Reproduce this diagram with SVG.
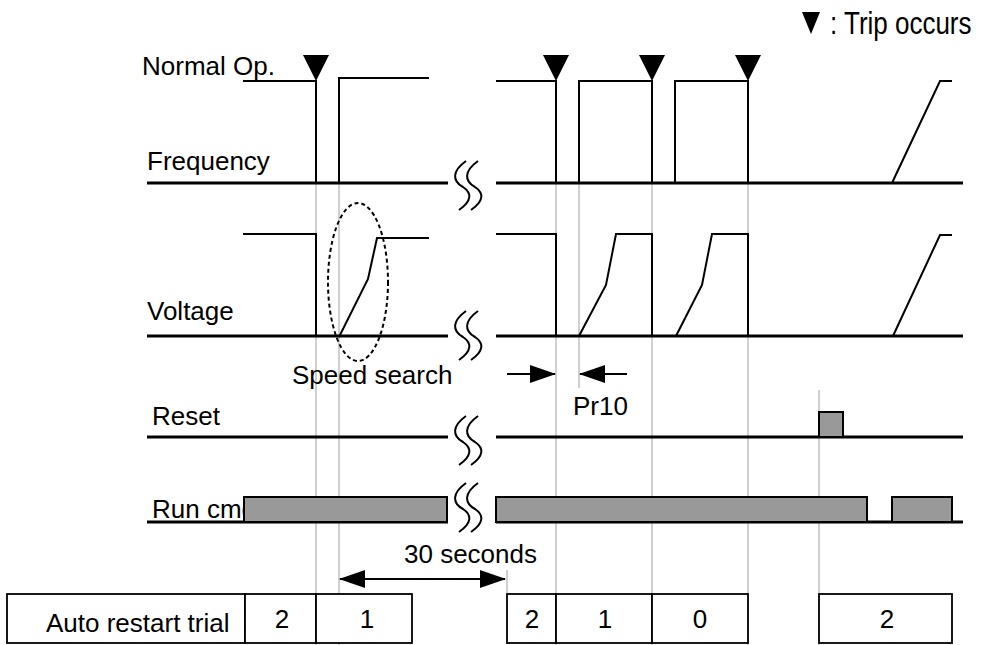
<svg xmlns="http://www.w3.org/2000/svg" width="982" height="645" viewBox="0 0 982 645">
<style>
text{font-family:"Liberation Sans",Arial,sans-serif;font-size:26px;fill:#000}
.base{stroke:#000;stroke-width:3.2;fill:none}
.sig{stroke:#000;stroke-width:2;fill:none;stroke-linejoin:miter}
.guide{stroke:#c4c4c4;stroke-width:1.6;fill:none}
.trip{fill:#000}
.bar{fill:#999;stroke:#000;stroke-width:2}
.cell{fill:#fff;stroke:#000;stroke-width:1.8}
.brk{stroke:#000;stroke-width:2;fill:none}
.dim{stroke:#000;stroke-width:2;fill:none}
.num{text-anchor:middle}
</style>
<defs>
<marker id="ah" markerUnits="userSpaceOnUse" markerWidth="26" markerHeight="18" viewBox="0 0 26 18" refX="25" refY="9" orient="auto-start-reverse">
<path d="M0,0 L26,9 L0,18 Z" fill="#000"/>
</marker>
<g id="brk">
<path class="brk" d="M3,-24 C-11,-14 -11,-4 0,2 C9,8 9,16 -4,25"/>
<path class="brk" d="M15,-24 C1,-14 1,-4 12,2 C21,8 21,16 8,25"/>
</g>
</defs>

<g id="connectors">
<line class="guide" x1="316" y1="183" x2="316" y2="645"/>
<line class="guide" x1="339" y1="183" x2="339" y2="645"/>
<line class="guide" x1="556" y1="183" x2="556" y2="645"/>
<line class="guide" x1="579" y1="183" x2="579" y2="388"/>
<line class="guide" x1="652" y1="183" x2="652" y2="645"/>
<line class="guide" x1="748" y1="183" x2="748" y2="645"/>
<line class="guide" x1="819" y1="390" x2="819" y2="645"/>
<line class="guide" x1="507" y1="570" x2="507" y2="594"/>
<line class="dim" x1="507" y1="374" x2="555" y2="374" marker-end="url(#ah)"/>
<line class="dim" x1="627" y1="374" x2="580" y2="374" marker-end="url(#ah)"/>
<line class="dim" x1="340" y1="579" x2="505" y2="579" marker-start="url(#ah)" marker-end="url(#ah)"/>
</g>

<g id="legend">
<polygon class="trip" points="802,12 820,12 811,34"/>
<text transform="translate(830,34) scale(1,1.2)">: Trip occurs</text>
</g>

<g id="frequency">
<text x="142" y="75">Normal Op.</text>
<text x="147" y="170">Frequency</text>
<line class="base" x1="147" y1="183" x2="448" y2="183"/>
<line class="base" x1="496" y1="183" x2="963" y2="183"/>
<polyline class="sig" points="243,81 316,81 316,183"/>
<polyline class="sig" points="339,183 339,78 429,78"/>
<polyline class="sig" points="496,81 556,81 556,183"/>
<polyline class="sig" points="579,183 579,81 652,81 652,183"/>
<polyline class="sig" points="675,183 675,81 748,81 748,183"/>
<polyline class="sig" points="892,183 940,81 952,81"/>
<polygon class="trip" points="303,55 329,55 316,81"/>
<polygon class="trip" points="543,55 569,55 556,81"/>
<polygon class="trip" points="639,55 665,55 652,81"/>
<polygon class="trip" points="735,55 761,55 748,81"/>
<use href="#brk" x="463" y="185"/>
</g>

<g id="voltage">
<text x="147" y="320">Voltage</text>
<line class="base" x1="147" y1="336" x2="448" y2="336"/>
<line class="base" x1="496" y1="336" x2="963" y2="336"/>
<polyline class="sig" points="243,234 316,234 316,336"/>
<polyline class="sig" points="339,337 368,279 377,238 429,238"/>
<polyline class="sig" points="496,234 556,234 556,336"/>
<polyline class="sig" points="579,336 606,285 616,234 652,234 652,336"/>
<polyline class="sig" points="676,336 702,285 712,234 748,234 748,336"/>
<polyline class="sig" points="893,336 940,235 952,235"/>
<ellipse cx="358" cy="282" rx="30" ry="79" fill="none" stroke="#000" stroke-width="2" stroke-dasharray="4,3"/>
<text x="292" y="384">Speed search</text>
<text x="573" y="415">Pr10</text>
<use href="#brk" x="463" y="335"/>
</g>

<g id="reset">
<text x="152" y="425">Reset</text>
<line class="base" x1="147" y1="437" x2="448" y2="437"/>
<line class="base" x1="496" y1="437" x2="963" y2="437"/>
<rect class="bar" x="819" y="412" width="24" height="25"/>
<use href="#brk" x="463" y="440"/>
</g>

<g id="runcmd">
<text x="152" y="518">Run cmd</text>
<line class="base" x1="147" y1="522" x2="448" y2="522"/>
<line class="base" x1="496" y1="522" x2="963" y2="522"/>
<rect class="bar" x="244" y="497" width="203" height="25"/>
<rect class="bar" x="496" y="497" width="371" height="25"/>
<rect class="bar" x="892" y="497" width="60" height="25"/>
<use href="#brk" x="463" y="507"/>
</g>

<text x="404" y="563">30 seconds</text>

<g id="table">
<rect class="cell" x="7" y="594" width="238" height="49"/>
<rect class="cell" x="245" y="594" width="71" height="49"/>
<rect class="cell" x="316" y="594" width="96" height="49"/>
<rect class="cell" x="507" y="594" width="49" height="49"/>
<rect class="cell" x="556" y="594" width="96" height="49"/>
<rect class="cell" x="652" y="594" width="96" height="49"/>
<rect class="cell" x="819" y="594" width="133" height="49"/>
<text x="46" y="632">Auto restart trial</text>
<text class="num" x="282" y="628">2</text>
<text class="num" x="367" y="628">1</text>
<text class="num" x="532" y="628">2</text>
<text class="num" x="605" y="628">1</text>
<text class="num" x="700" y="628">0</text>
<text class="num" x="887" y="628">2</text>
</g>
</svg>
